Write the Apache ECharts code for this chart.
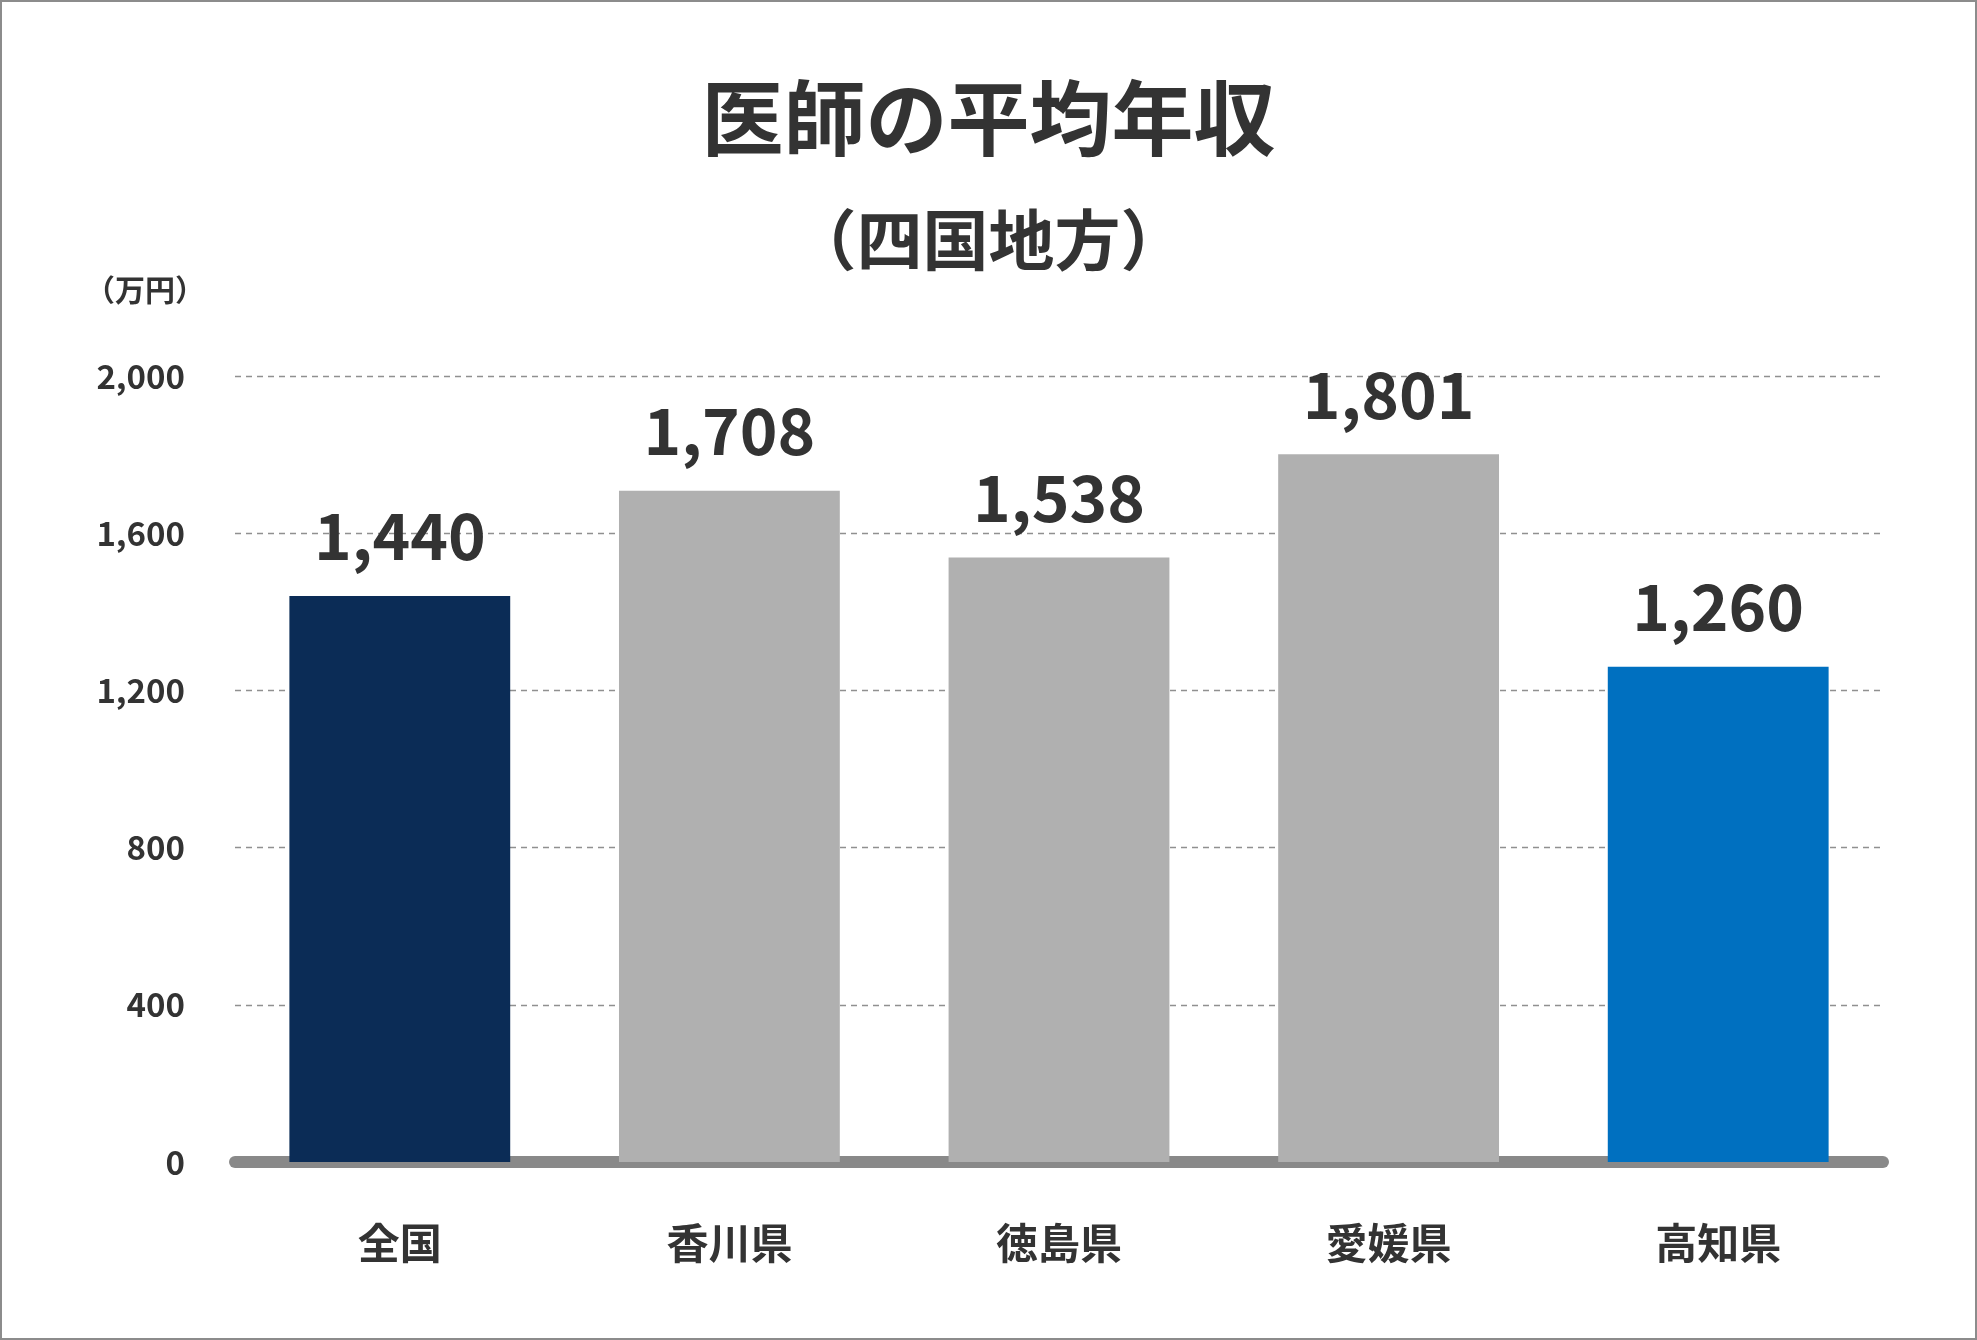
<!DOCTYPE html>
<html><head><meta charset="utf-8">
<script src="https://cdn.jsdelivr.net/npm/echarts@6/dist/echarts.min.js"></script>
<style>html,body{margin:0;padding:0;background:#fff}#main{width:1977px;height:1340px;box-sizing:border-box;border:2px solid #8c8c8c}</style>
</head><body><div id="main"></div>
<script>
// データ
var categories = ['全国', '香川県', '徳島県', '愛媛県', '高知県'];
var values = [1440, 1708, 1538, 1801, 1260];
var barColors = ['#0b2c56', '#b0b0b0', '#b0b0b0', '#b0b0b0', '#0070c0'];

var font = '"Noto Sans CJK JP", sans-serif';
var chart = echarts.init(document.getElementById('main'));
chart.setOption({
	backgroundColor: '#fff',
	title: [
		{ text: '医師の平均年収', left: 'center', top: 70, textStyle: { fontFamily: font, fontSize: 82, fontWeight: 'bold', color: '#333' } },
		{ text: '（四国地方）', left: 'center', top: 200, textStyle: { fontFamily: font, fontSize: 66, fontWeight: 'bold', color: '#333' } },
		{ text: '（万円）', left: 78, top: 268, textStyle: { fontFamily: font, fontSize: 30, fontWeight: 'bold', color: '#333' } }
	],
	grid: { left: 233, right: 92, top: 374, bottom: 176 },
	xAxis: {
		type: 'category',
		data: categories,
		axisTick: { show: false },
		axisLine: { lineStyle: { color: '#898989', width: 12 } },
		axisLabel: { margin: 60, fontFamily: font, fontSize: 42, fontWeight: 'bold', color: '#333' }
	},
	yAxis: {
		type: 'value',
		min: 0, max: 2000, interval: 400,
		axisLine: { show: false },
		axisTick: { show: false },
		axisLabel: {
			margin: 50, fontFamily: font, fontSize: 33, fontWeight: 'bold', color: '#333',
			formatter: function (v) { return v.toLocaleString('en-US'); }
		},
		splitLine: { lineStyle: { color: '#909090', type: [6, 5], width: 1.3 } }
	},
	series: [{
		type: 'bar',
		barWidth: '67%',
		data: values.map(function (v, i) { return { value: v, itemStyle: { color: barColors[i] } }; }),
		label: {
			show: true, position: 'top', distance: 28,
			fontFamily: font, fontSize: 64, fontWeight: 'bold', color: '#333',
			formatter: function (p) { return p.value.toLocaleString('en-US'); }
		}
	}]
});
</script></body></html>
